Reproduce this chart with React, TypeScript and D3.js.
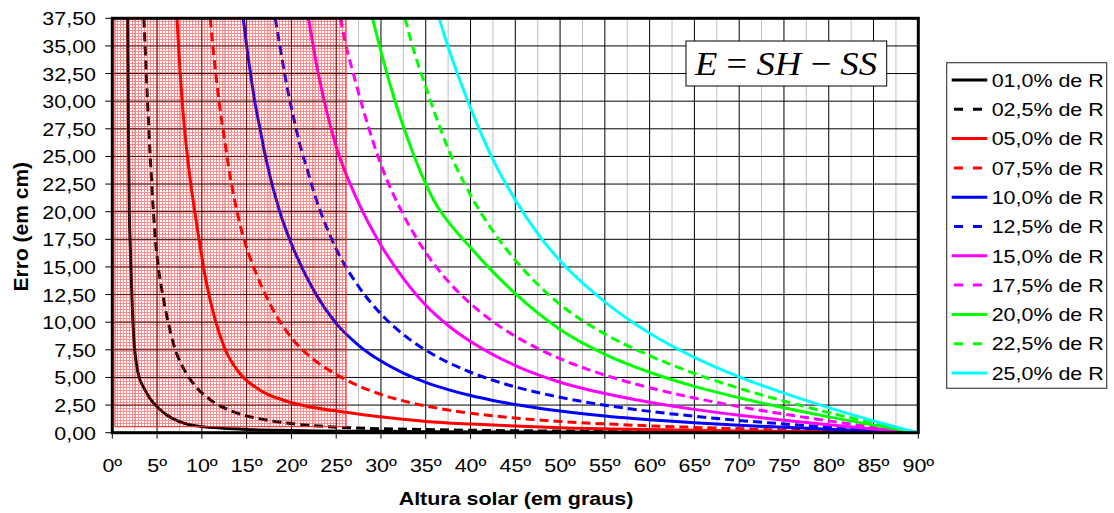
import React from "react";
import * as d3 from "d3";

type Pt = [number, number];

// series: [altura solar (graus), erro (cm)]
const s010: Pt[] = [[1.71, 37.5], [1.8, 28], [1.9, 20], [2.0, 17], [2.1, 14.5], [2.25, 11], [2.45, 8], [2.7, 6.2], [3.0, 5.0], [3.5, 4.1], [4.2, 3.1], [5, 2.35], [6, 1.65], [7.5, 1.0], [10, 0.55], [15, 0.3], [20, 0.2], [30, 0.12], [45, 0.07], [60, 0.04], [75, 0.02], [90, 0]];
const s025: Pt[] = [[3.53, 37.5], [4.05, 28.0], [4.58, 20.15], [4.8, 17.6], [5.1, 15.2], [5.5, 13.1], [5.95, 11.1], [6.5, 9.1], [7.0, 7.6], [8.1, 5.6], [9.2, 4.3], [10.9, 3.0], [13.5, 1.9], [17.2, 1.15], [20.9, 0.75], [24.7, 0.52], [28.4, 0.4], [35, 0.28], [40, 0.22], [50, 0.15], [60, 0.1], [70, 0.06], [80, 0.03], [90, 0]];
const s050: Pt[] = [[7.22, 37.5], [7.55, 32.9], [7.92, 28.8], [8.5, 24.2], [9.4, 19.0], [10.5, 13.6], [11.46, 10.3], [12.57, 7.6], [14.25, 5.36], [16.5, 3.85], [19.46, 2.85], [22, 2.35], [24.7, 2.0], [28, 1.62], [31.4, 1.3], [35, 1.02], [40, 0.78], [45, 0.6], [50, 0.45], [60, 0.28], [70, 0.16], [80, 0.075], [90, 0]];
const s075: Pt[] = [[10.94, 37.5], [11.2, 35.2], [11.7, 31.5], [12.0, 29.5], [12.65, 25.9], [13.0, 24.0], [13.4, 22.1], [13.9, 20.1], [14.6, 17.8], [15.9, 14.75], [17.5, 11.82], [20, 8.59], [22.5, 6.62], [25, 5.28], [27.5, 4.24], [30, 3.46], [32.5, 2.88], [35, 2.42], [37.5, 2.06], [40, 1.76], [42.5, 1.53], [45, 1.33], [50, 1.02], [55, 0.8], [60, 0.62], [65, 0.48], [70, 0.36], [75, 0.25], [80, 0.16], [85, 0.076], [90, 0]];
const s100: Pt[] = [[14.62, 37.5], [15.0, 35], [15.44, 32.5], [15.9, 30], [16.5, 27.5], [17.1, 25], [18.7, 20], [20, 17.1], [22.5, 12.87], [25, 9.89], [27.5, 7.91], [30, 6.48], [32.5, 5.4], [35, 4.56], [37.5, 3.9], [40, 3.36], [42.5, 2.92], [45, 2.55], [47.5, 2.23], [50, 1.96], [55, 1.52], [60, 1.18], [65, 0.906], [70, 0.678], [75, 0.483], [80, 0.308], [85, 0.145], [90, 0]];
const s125: Pt[] = [[18.2, 37.5], [18.65, 35.3], [19.0, 33.6], [19.4, 31.8], [19.9, 29.8], [20.5, 27.6], [21.0, 25.9], [21.7, 24.0], [22.5, 21.8], [25, 16.64], [27.5, 13.23], [30, 10.74], [32.5, 8.88], [35, 7.47], [37.5, 6.36], [40, 5.47], [42.5, 4.75], [45, 4.14], [47.5, 3.64], [50, 3.2], [55, 2.49], [60, 1.93], [65, 1.49], [70, 1.11], [75, 0.79], [80, 0.5], [85, 0.24], [90, 0]];
const s150: Pt[] = [[21.9, 37.5], [23.0, 32.5], [23.9, 29.2], [25, 25.9], [27.5, 20.8], [30, 16.97], [32.5, 13.96], [35, 11.53], [37.5, 9.7], [40, 8.25], [42.5, 7.07], [45, 6.08], [47.5, 5.25], [50, 4.57], [55, 3.54], [60, 2.75], [65, 2.11], [70, 1.58], [75, 1.12], [80, 0.71], [85, 0.34], [90, 0]];
const s175: Pt[] = [[25.48, 37.5], [25.97, 35.5], [27.08, 32.0], [28.0, 29.3], [30, 24.25], [32.5, 19.72], [35, 16.31], [37.5, 13.7], [40, 11.68], [42.5, 10.05], [45, 8.72], [47.5, 7.63], [50, 6.7], [55, 5.21], [60, 4.07], [65, 3.14], [70, 2.36], [75, 1.68], [80, 1.07], [85, 0.51], [90, 0]];
const s200: Pt[] = [[29.06, 37.5], [29.9, 34.8], [30.7, 32.4], [31.5, 30.2], [32.5, 27.7], [33.6, 25.25], [34.9, 22.7], [36.2, 20.6], [37.5, 19.1], [40, 16.75], [42.5, 14.55], [45, 12.58], [47.5, 10.84], [50, 9.33], [55, 7.09], [60, 5.47], [65, 4.19], [70, 3.16], [75, 2.25], [80, 1.43], [85, 0.685], [90, 0]];
const s225: Pt[] = [[32.7, 37.5], [33.2, 35.9], [33.7, 34.5], [34.2, 33.2], [35, 31.3], [36.1, 28.7], [37.5, 25.7], [40, 21.5], [42.5, 18.25], [45, 15.62], [47.5, 13.42], [50, 11.61], [55, 8.93], [60, 6.97], [65, 5.36], [70, 4.02], [75, 2.86], [80, 1.82], [85, 0.87], [90, 0]];
const s250: Pt[] = [[36.5, 37.5], [37.5, 34.9], [40, 29.39], [42.5, 24.71], [45, 21.07], [47.5, 18.02], [50, 15.55], [55, 11.84], [60, 9.0], [65, 6.82], [70, 5.05], [75, 3.58], [80, 2.27], [85, 1.07], [90, 0]];

const seriesData = [s010, s025, s050, s075, s100, s125, s150, s175, s200, s225, s250];
const seriesNames = ["01,0% de R", "02,5% de R", "05,0% de R", "07,5% de R", "10,0% de R", "12,5% de R", "15,0% de R", "17,5% de R", "20,0% de R", "22,5% de R", "25,0% de R"];
const seriesColors = ["#000000", "#000000", "#ff0000", "#ff0000", "#0000ff", "#0000ff", "#ff00ff", "#ff00ff", "#00ff00", "#00ff00", "#00ffff"];
const seriesDashed = [false, true, false, true, false, true, false, true, false, true, false];

const xTicks = d3.range(0, 91, 5);
const xMinor = d3.range(2.5, 90, 5);
const yTicks = d3.range(0, 37.51, 2.5);

// shaded band (graus / cm)
const bandX: [number, number] = [0.3, 26.1];
const bandY: [number, number] = [0.54, 37.5];

const xTitle = "Altura solar (em graus)";
const yTitle = "Erro (em cm)";

const W = 1114;
const H = 513;
const FONT = "'Liberation Sans', Arial, sans-serif";
const SX = 1.16; // text is stretched horizontally in the original

const fmtY = (v: number) => v.toFixed(2).replace(".", ",");

function Txt(props: { x: number; y: number; anchor?: string; size?: number; bold?: boolean; children: React.ReactNode }) {
  const { x, y, anchor = "start", size = 18.5, bold = false, children } = props;
  return (
    <text
      transform={`translate(${x},${y}) scale(${SX},1)`}
      textAnchor={anchor}
      fontFamily={FONT}
      fontSize={size}
      fontWeight={bold ? "bold" : "normal"}
      fill="#000"
    >
      {children}
    </text>
  );
}

export default function App() {
  const x = d3.scaleLinear().domain([0, 90]).range([112.3, 918.3]);
  const y = d3.scaleLinear().domain([0, 37.5]).range([432.7, 18.3]);
  const [x0, x1] = x.range();
  const [y0, y1] = y.range();

  const line = d3
    .line<Pt>()
    .x((d) => x(d[0]))
    .y((d) => y(d[1]))
    .curve(d3.curveMonotoneX);

  const legX = 946.7;
  const legY = 62.7;
  const legW = 160;
  const legH = 325.6;
  const rowH = 29.3;

  return (
    <svg width={W} height={H} style={{ position: "absolute", left: 0, top: 0, background: "#fff" }}>
      <defs>
        <clipPath id="plot">
          <rect x={x0} y={y1} width={x1 - x0} height={y0 - y1} />
        </clipPath>
        <pattern id="grid-fill" width="3" height="3" patternUnits="userSpaceOnUse">
          <rect x="0" y="0" width="3" height="1" fill="#ff0000" fillOpacity="0.45" />
          <rect x="0" y="1" width="1" height="2" fill="#ff0000" fillOpacity="0.45" />
        </pattern>
      </defs>
      <rect x={0} y={0} width={W} height={H} fill="#fff" />

      {/* gridlines */}
      {xMinor.map((t) => (
        <line key={"mx" + t} x1={x(t)} x2={x(t)} y1={y1} y2={y0} stroke="#c0c0c0" strokeWidth={1} />
      ))}
      {xTicks.slice(1, -1).map((t) => (
        <line key={"gx" + t} x1={x(t)} x2={x(t)} y1={y1} y2={y0} stroke="#000" strokeWidth={1} />
      ))}
      {yTicks.slice(1, -1).map((t) => (
        <line key={"gy" + t} x1={x0} x2={x1} y1={y(t)} y2={y(t)} stroke="#000" strokeWidth={1} />
      ))}

      {/* series */}
      <g clipPath="url(#plot)">
        {seriesData.map((s, i) => (
          <path
            key={seriesNames[i]}
            d={line(s) || ""}
            fill="none"
            stroke={seriesColors[i]}
            strokeWidth={3}
            strokeDasharray={seriesDashed[i] ? "9,5" : undefined}
            strokeLinejoin="round"
          />
        ))}
      </g>

      {/* shaded band */}
      <rect
        x={x(bandX[0])}
        y={y(bandY[1])}
        width={x(bandX[1]) - x(bandX[0])}
        height={y(bandY[0]) - y(bandY[1])}
        fill="url(#grid-fill)"
        stroke="#ff2020"
        strokeWidth={1}
      />

      {/* frame */}
      <rect x={x0} y={y1} width={x1 - x0} height={y0 - y1} fill="none" stroke="#000" strokeWidth={3} />

      {/* ticks */}
      {yTicks.map((t) => (
        <g key={"ty" + t}>
          <line x1={x0 - 7} x2={x0} y1={y(t)} y2={y(t)} stroke="#000" strokeWidth={1} />
          <Txt x={96} y={y(t) + 7} anchor="end">{fmtY(t)}</Txt>
        </g>
      ))}
      {xTicks.map((t) => (
        <g key={"tx" + t}>
          <line x1={x(t)} x2={x(t)} y1={y0} y2={y0 + 6} stroke="#000" strokeWidth={1} />
          <Txt x={x(t)} y={471.5} anchor="middle">{`${t}º`}</Txt>
        </g>
      ))}

      {/* axis titles */}
      <Txt x={516} y={505} anchor="middle" bold>{xTitle}</Txt>
      <text
        transform="translate(28,226.7) rotate(-90)"
        textAnchor="middle"
        fontFamily={FONT}
        fontSize={21}
        fontWeight="bold"
      >
        {yTitle}
      </text>

      {/* formula box */}
      <rect x={686} y={41} width={200.7} height={45} fill="#fff" stroke="#000" strokeWidth={1} />
      <text
        x={695}
        y={75}
        textLength={182}
        lengthAdjust="spacingAndGlyphs"
        fontFamily="'Liberation Serif', 'Times New Roman', serif"
        fontSize={34}
      >
        <tspan fontStyle="italic">E</tspan>
        <tspan> = </tspan>
        <tspan fontStyle="italic">SH</tspan>
        <tspan> − </tspan>
        <tspan fontStyle="italic">SS</tspan>
      </text>

      {/* legend */}
      <rect x={legX} y={legY} width={legW} height={legH} fill="#fff" stroke="#444" strokeWidth={1.2} />
      {seriesNames.map((name, i) => {
        const cy = 80 + i * rowH;
        return (
          <g key={"lg" + name}>
            {seriesDashed[i] ? (
              <line x1={954} x2={983} y1={cy} y2={cy} stroke={seriesColors[i]} strokeWidth={3} strokeDasharray="9,10" />
            ) : (
              <line x1={951.7} x2={987.3} y1={cy} y2={cy} stroke={seriesColors[i]} strokeWidth={3} />
            )}
            <Txt x={991.7} y={cy + 6.7}>{name}</Txt>
          </g>
        );
      })}
    </svg>
  );
}
